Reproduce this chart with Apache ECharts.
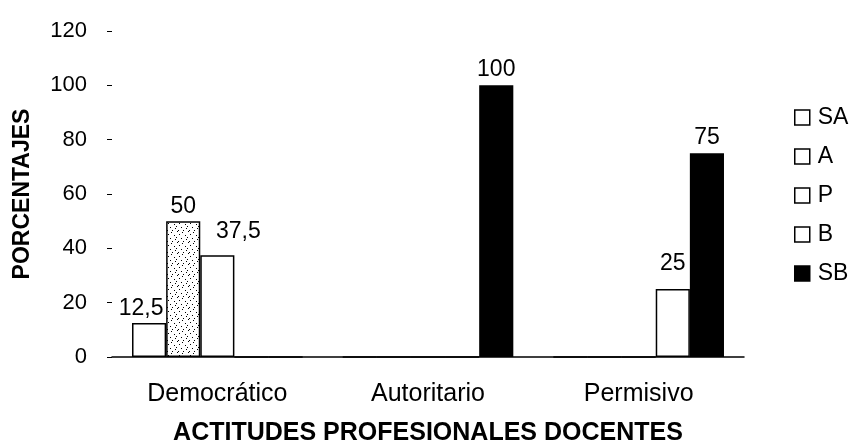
<!DOCTYPE html>
<html>
<head>
<meta charset="utf-8">
<script src="https://cdn.jsdelivr.net/npm/echarts@6/dist/echarts.min.js"></script>
<style>html,body{margin:0;padding:0;background:#fff}#c{width:862px;height:443px}</style>
</head>
<body>
<div id="c"></div>
<script>
const categories = ['Democrático', 'Autoritario', 'Permisivo'];
const seriesNames = ['SA', 'A', 'P', 'B', 'SB'];
const valSA = [12.5, 0, 0];
const valA = [50, 0, 0];
const valP = [37.5, 0, 0];
const valB = [0, 0, 25];
const valSB = [0, 100, 75];
const yTicks = [0, 20, 40, 60, 80, 100, 120];

// stipple texture for series A (fixed dot layout)
const pc = document.createElement('canvas');
pc.width = 11; pc.height = 11;
const pctx = pc.getContext('2d');
pctx.fillStyle = '#fff'; pctx.fillRect(0, 0, 11, 11);
pctx.fillStyle = '#000';
[[1,0],[6,1],[3,3],[9,4],[0,6],[5,7],[10,8],[2,10],[7,10]].forEach(p => pctx.fillRect(p[0], p[1], 1, 1));

const FONT = 'Liberation Sans, Arial, sans-serif';
const chart = echarts.init(document.getElementById('c'));
const values = [valSA, valA, valP, valB, valSB];
const fills = ['#ffffff', {image: pc, repeat: 'repeat'}, '#ffffff', '#ffffff', '#000000'];
const labelShift = [[-8, 3], [0, 3], [21, -6], [0, -8], [0, 2]];

chart.setOption({
  animation: false,
  backgroundColor: '#fff',
  grid: {left: 112, right: 118, top: 31, bottom: 86, containLabel: false, outerBoundsMode: 'none'},
  legend: {
    orient: 'vertical', left: 789, top: 101,
    itemWidth: 15, itemHeight: 15, itemGap: 16,
    icon: 'rect',
    textStyle: {fontFamily: FONT, fontSize: 23, color: '#000', padding: [0, 0, 0, 3]},
    data: seriesNames.map((n, i) => ({name: n, itemStyle: {color: i === 4 ? '#000' : '#fff', borderColor: '#000', borderWidth: 1.5}}))
  },
  xAxis: {
    type: 'category', data: categories,
    name: 'ACTITUDES PROFESIONALES DOCENTES',
    nameLocation: 'middle', nameGap: 76,
    nameTextStyle: {fontFamily: FONT, fontSize: 25, fontWeight: 'bold', color: '#000', verticalAlign: 'middle'},
    axisLine: {lineStyle: {color: '#000', width: 1.5}},
    axisTick: {show: false},
    axisLabel: {fontFamily: FONT, fontSize: 25, color: '#000', margin: 25}
  },
  yAxis: {
    type: 'value', min: yTicks[0], max: yTicks[yTicks.length - 1], interval: 20,
    name: 'PORCENTAJES', nameLocation: 'middle', nameGap: 78,
    nameTextStyle: {fontFamily: FONT, fontSize: 23, fontWeight: 'bold', color: '#000'},
    axisLine: {show: false},
    axisTick: {show: true, length: 5, lineStyle: {color: '#000', width: 1}},
    splitLine: {show: false},
    axisLabel: {fontFamily: FONT, fontSize: 22, color: '#000', margin: 25}
  },
  series: seriesNames.map((n, i) => ({
    name: n, type: 'bar', data: values[i],
    barGap: '0%', barCategoryGap: '19%',
    itemStyle: {color: fills[i], borderColor: '#000', borderWidth: 1.5},
    label: {
      show: true, position: 'top', distance: 6, offset: labelShift[i],
      fontFamily: FONT, fontSize: 23, color: '#000',
      formatter: p => p.value === 0 ? '' : String(p.value).replace('.', ',')
    }
  }))
});
</script>
</body>
</html>
